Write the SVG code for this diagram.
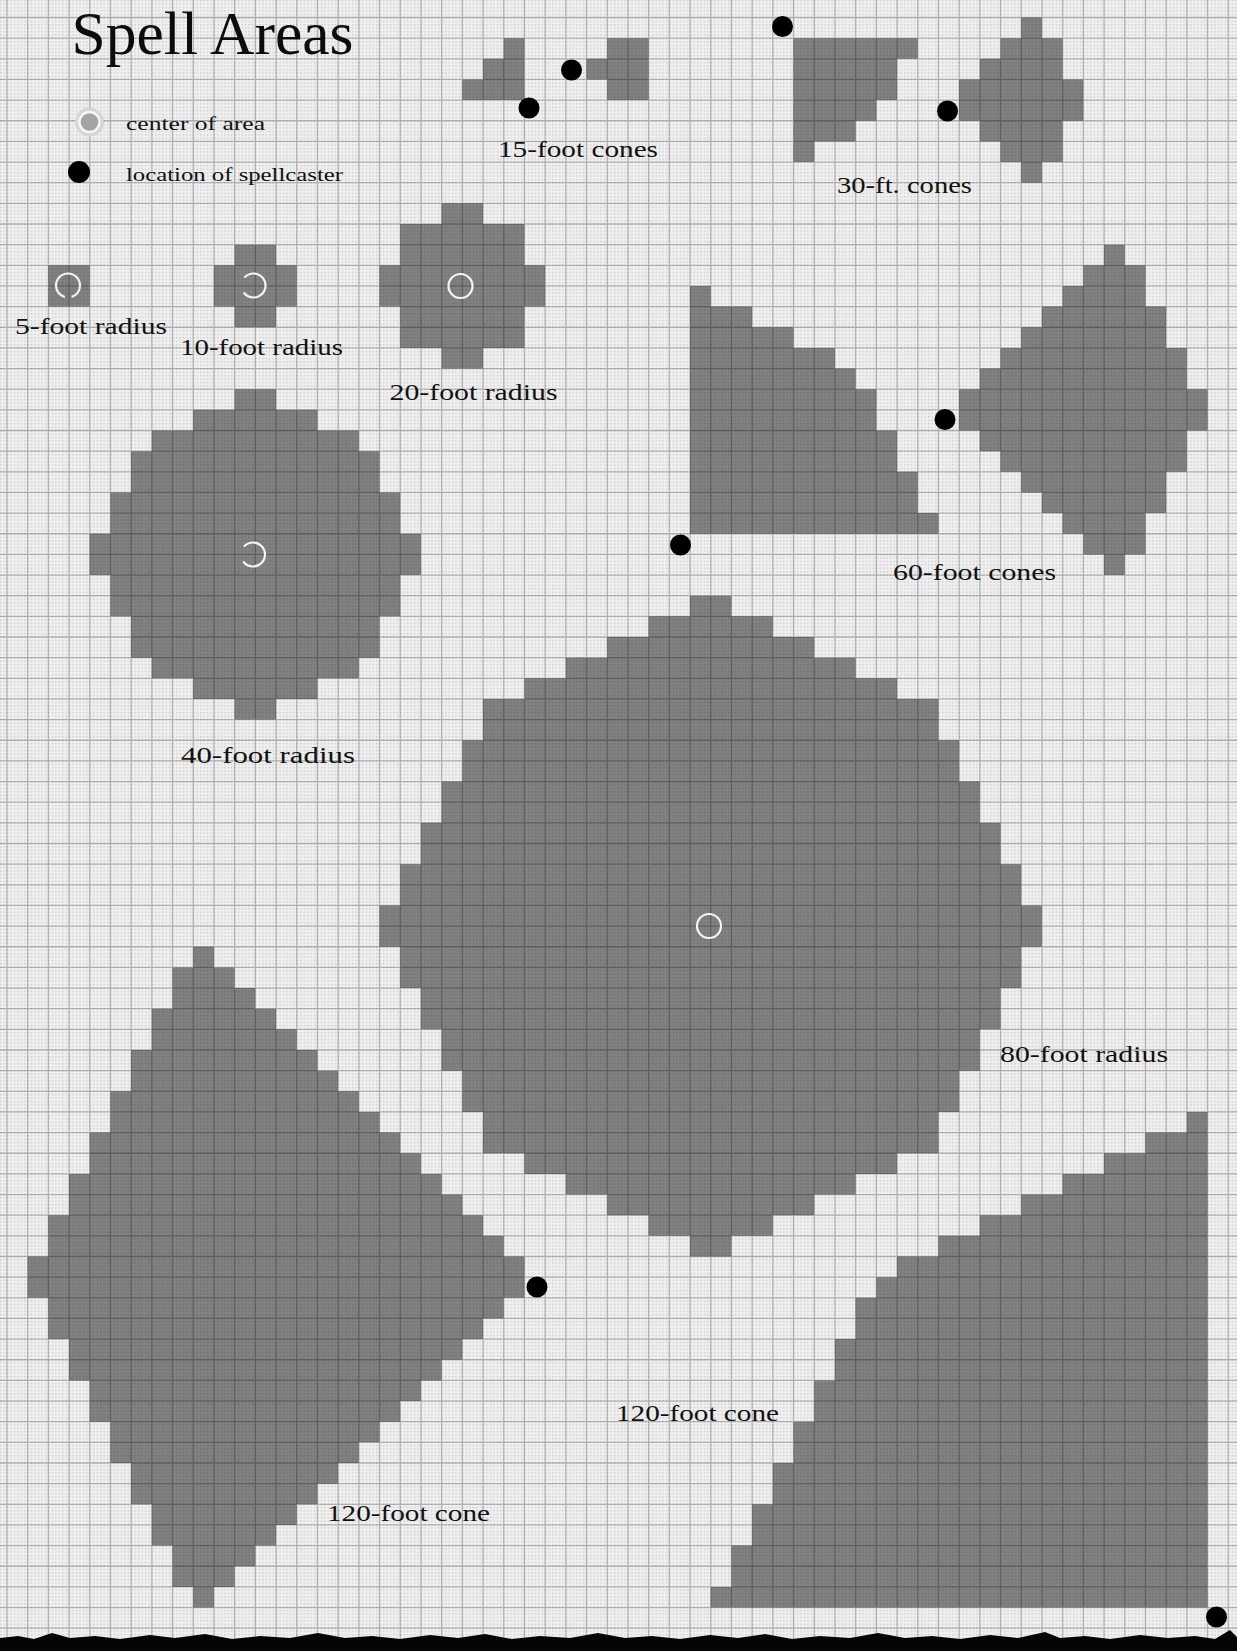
<svg xmlns="http://www.w3.org/2000/svg" width="1237" height="1651" viewBox="0 0 1237 1651">
<defs>
<style>
.area{fill:#000;fill-opacity:0.46}
.grid{fill:none;stroke:#000;stroke-opacity:0.24;stroke-width:1.3}
.ring{fill:none;stroke:#f4f4f4;stroke-width:2.2}
.caster{fill:#000}
.lbl{font-family:"Liberation Serif","DejaVu Serif",serif;font-size:23px;fill:#111}
.leg{font-family:"Liberation Serif","DejaVu Serif",serif;font-size:19px;fill:#111}
.title{font-family:"Liberation Serif","DejaVu Serif",serif;font-size:62px;fill:#0c0c0c}
</style>
<pattern id="dots" width="3.45" height="3.44" patternUnits="userSpaceOnUse">
<rect width="1.3" height="1.3" fill="#000" fill-opacity="0.16"/>
</pattern>
</defs>

<g id="background">
<rect width="1237" height="1651" fill="#efefef"/>
<rect width="1237" height="1651" fill="url(#dots)"/>
<g transform="translate(6.9,17.5) scale(20.7,20.65)">
<path class="grid" vector-effect="non-scaling-stroke" d="M0 -1V80M1 -1V80M2 -1V80M3 -1V80M4 -1V80M5 -1V80M6 -1V80M7 -1V80M8 -1V80M9 -1V80M10 -1V80M11 -1V80M12 -1V80M13 -1V80M14 -1V80M15 -1V80M16 -1V80M17 -1V80M18 -1V80M19 -1V80M20 -1V80M21 -1V80M22 -1V80M23 -1V80M24 -1V80M25 -1V80M26 -1V80M27 -1V80M28 -1V80M29 -1V80M30 -1V80M31 -1V80M32 -1V80M33 -1V80M34 -1V80M35 -1V80M36 -1V80M37 -1V80M38 -1V80M39 -1V80M40 -1V80M41 -1V80M42 -1V80M43 -1V80M44 -1V80M45 -1V80M46 -1V80M47 -1V80M48 -1V80M49 -1V80M50 -1V80M51 -1V80M52 -1V80M53 -1V80M54 -1V80M55 -1V80M56 -1V80M57 -1V80M58 -1V80M59 -1V80M-1 0H60M-1 1H60M-1 2H60M-1 3H60M-1 4H60M-1 5H60M-1 6H60M-1 7H60M-1 8H60M-1 9H60M-1 10H60M-1 11H60M-1 12H60M-1 13H60M-1 14H60M-1 15H60M-1 16H60M-1 17H60M-1 18H60M-1 19H60M-1 20H60M-1 21H60M-1 22H60M-1 23H60M-1 24H60M-1 25H60M-1 26H60M-1 27H60M-1 28H60M-1 29H60M-1 30H60M-1 31H60M-1 32H60M-1 33H60M-1 34H60M-1 35H60M-1 36H60M-1 37H60M-1 38H60M-1 39H60M-1 40H60M-1 41H60M-1 42H60M-1 43H60M-1 44H60M-1 45H60M-1 46H60M-1 47H60M-1 48H60M-1 49H60M-1 50H60M-1 51H60M-1 52H60M-1 53H60M-1 54H60M-1 55H60M-1 56H60M-1 57H60M-1 58H60M-1 59H60M-1 60H60M-1 61H60M-1 62H60M-1 63H60M-1 64H60M-1 65H60M-1 66H60M-1 67H60M-1 68H60M-1 69H60M-1 70H60M-1 71H60M-1 72H60M-1 73H60M-1 74H60M-1 75H60M-1 76H60M-1 77H60M-1 78H60M-1 79H60"/>
</g>
</g>

<g id="legend">
<text class="title" x="71.5" y="54" textLength="282" lengthAdjust="spacingAndGlyphs">Spell Areas</text>
<circle cx="89.5" cy="122" r="14.5" fill="#d6d6d6"/>
<circle cx="89.5" cy="122" r="10" fill="#a4a4a4" stroke="#f6f6f6" stroke-width="2.4"/>
<text class="leg" x="126" y="129.5" textLength="139" lengthAdjust="spacingAndGlyphs">center of area</text>
<circle class="caster" cx="79" cy="172" r="11"/>
<text class="leg" x="126" y="181" textLength="217" lengthAdjust="spacingAndGlyphs">location of spellcaster</text>
</g>

<g id="radius-5">
<path class="area" transform="translate(6.9,17.5) scale(20.7,20.65)" d="M2 12h2v2h-2z"/>
<circle class="ring" cx="68" cy="285.5" r="12" stroke-dasharray="15 7 60"/>
<text class="lbl" x="15" y="334" textLength="152" lengthAdjust="spacingAndGlyphs">5-foot radius</text>
</g>

<g id="radius-10">
<path class="area" transform="translate(6.9,17.5) scale(20.7,20.65)" d="M10 12h4v2h-4zM11 11h2v4h-2z"/>
<circle class="ring" cx="253.5" cy="285.5" r="12" stroke-dasharray="30 16 40"/>
<text class="lbl" x="180" y="355" textLength="163" lengthAdjust="spacingAndGlyphs">10-foot radius</text>
</g>

<g id="radius-20">
<path class="area" transform="translate(6.9,17.5) scale(20.7,20.65)" d="M18 12h8v2h-8zM19 11h6v4h-6zM19 10h6v6h-6zM21 9h2v8h-2z"/>
<circle class="ring" cx="460.5" cy="286" r="12"/>
<text class="lbl" x="389.5" y="400" textLength="168" lengthAdjust="spacingAndGlyphs">20-foot radius</text>
</g>

<g id="radius-40">
<path class="area" transform="translate(6.9,17.5) scale(20.7,20.65)" d="M4 25h16v2h-16zM5 23h14v6h-14zM6 21h12v10h-12zM7 20h10v12h-10zM9 19h6v14h-6zM11 18h2v16h-2z"/>
<circle class="ring" cx="253" cy="554.5" r="12" stroke-dasharray="30 16 40"/>
<text class="lbl" x="181" y="763" textLength="174" lengthAdjust="spacingAndGlyphs">40-foot radius</text>
</g>

<g id="radius-80">
<path class="area" transform="translate(6.9,17.5) scale(20.7,20.65)" d="M18 43h32v2h-32zM19 41h30v6h-30zM20 39h28v10h-28zM21 37h26v14h-26zM22 35h24v18h-24zM23 33h22v22h-22zM25 32h18v24h-18zM27 31h14v26h-14zM29 30h10v28h-10zM31 29h6v30h-6zM33 28h2v32h-2z"/>
<circle class="ring" cx="709" cy="926" r="12"/>
<text class="lbl" x="1000" y="1062" textLength="168" lengthAdjust="spacingAndGlyphs">80-foot radius</text>
</g>

<g id="cones-15">
<path class="area" transform="translate(6.9,17.5) scale(20.7,20.65)" d="M22 3h3v1h-3zM23 2h2v2h-2zM24 1h1v3h-1zM28 2h1v1h-1zM29 1h2v3h-2z"/>
<circle class="caster" cx="529" cy="108" r="10.5"/>
<circle class="caster" cx="571.5" cy="70" r="10.5"/>
<text class="lbl" x="498" y="157" textLength="160" lengthAdjust="spacingAndGlyphs">15-foot cones</text>
</g>

<g id="cones-30">
<path class="area" transform="translate(6.9,17.5) scale(20.7,20.65)" d="M38 1h6v1h-6zM38 1h5v3h-5zM38 1h4v4h-4zM38 1h3v5h-3zM38 1h1v6h-1zM46 3h1v2h-1zM47 2h1v4h-1zM48 1h1v6h-1zM49 0h1v8h-1zM50 1h1v6h-1zM51 3h1v2h-1z"/>
<circle class="caster" cx="782.5" cy="26.5" r="10.5"/>
<circle class="caster" cx="947.5" cy="111" r="10.5"/>
<text class="lbl" x="837" y="193" textLength="135" lengthAdjust="spacingAndGlyphs">30-ft. cones</text>
</g>

<g id="cones-60">
<path class="area" transform="translate(6.9,17.5) scale(20.7,20.65)" d="M33 24h12v1h-12zM33 22h11v3h-11zM33 20h10v5h-10zM33 18h9v7h-9zM33 17h8v8h-8zM33 16h7v9h-7zM33 15h5v10h-5zM33 14h3v11h-3zM33 13h1v12h-1zM46 18h1v2h-1zM47 17h1v4h-1zM48 16h1v6h-1zM49 15h1v8h-1zM50 14h1v10h-1zM51 13h1v12h-1zM52 12h1v14h-1zM53 11h1v16h-1zM54 12h1v14h-1zM55 14h1v10h-1zM56 16h1v6h-1zM57 18h1v2h-1z"/>
<circle class="caster" cx="680.5" cy="545" r="10.5"/>
<circle class="caster" cx="945" cy="419.5" r="10.5"/>
<text class="lbl" x="893" y="580" textLength="163" lengthAdjust="spacingAndGlyphs">60-foot cones</text>
</g>

<g id="cone-120-left">
<path class="area" transform="translate(6.9,17.5) scale(20.7,20.65)" d="M24 60h1v2h-1zM23 59h1v4h-1zM22 58h1v6h-1zM21 57h1v8h-1zM20 56h1v10h-1zM19 55h1v12h-1zM18 54h1v14h-1zM17 53h1v16h-1zM16 52h1v18h-1zM15 51h1v20h-1zM14 50h1v22h-1zM13 49h1v24h-1zM12 48h1v26h-1zM11 47h1v28h-1zM10 46h1v30h-1zM9 45h1v32h-1zM8 46h1v30h-1zM7 48h1v26h-1zM6 50h1v22h-1zM5 52h1v18h-1zM4 54h1v14h-1zM3 56h1v10h-1zM2 58h1v6h-1zM1 60h1v2h-1z"/>
<circle class="caster" cx="537" cy="1287" r="10.5"/>
<text class="lbl" x="327" y="1521" textLength="163" lengthAdjust="spacingAndGlyphs">120-foot cone</text>
</g>

<g id="cone-120-diagonal">
<path class="area" transform="translate(6.9,17.5) scale(20.7,20.65)" d="M34 76h24v1h-24zM35 74h23v3h-23zM36 72h22v5h-22zM37 70h21v7h-21zM38 68h20v9h-20zM39 66h19v11h-19zM40 64h18v13h-18zM41 62h17v15h-17zM42 61h16v16h-16zM43 60h15v17h-15zM45 59h13v18h-13zM47 58h11v19h-11zM49 57h9v20h-9zM51 56h7v21h-7zM53 55h5v22h-5zM55 54h3v23h-3zM57 53h1v24h-1z"/>
<circle class="caster" cx="1216.5" cy="1617" r="10.5"/>
<text class="lbl" x="616" y="1421" textLength="163" lengthAdjust="spacingAndGlyphs">120-foot cone</text>
</g>

<g id="connectors"></g>

<g id="bottom-edge">
<path fill="#050505" d="M0 1651V1638L18 1636L34 1639L52 1633L70 1638L95 1636L120 1639L150 1635L175 1638L205 1634L232 1639L260 1636L290 1638L318 1633L345 1638L372 1636L400 1639L430 1635L458 1638L485 1634L512 1639L540 1636L570 1638L598 1633L625 1638L652 1636L680 1639L710 1635L738 1638L765 1634L792 1639L820 1636L850 1638L878 1633L905 1638L932 1636L960 1639L990 1635L1018 1638L1045 1632L1060 1638L1085 1636L1110 1639L1140 1635L1168 1638L1195 1636L1215 1639L1230 1630L1237 1637V1651Z"/>
</g>
</svg>
